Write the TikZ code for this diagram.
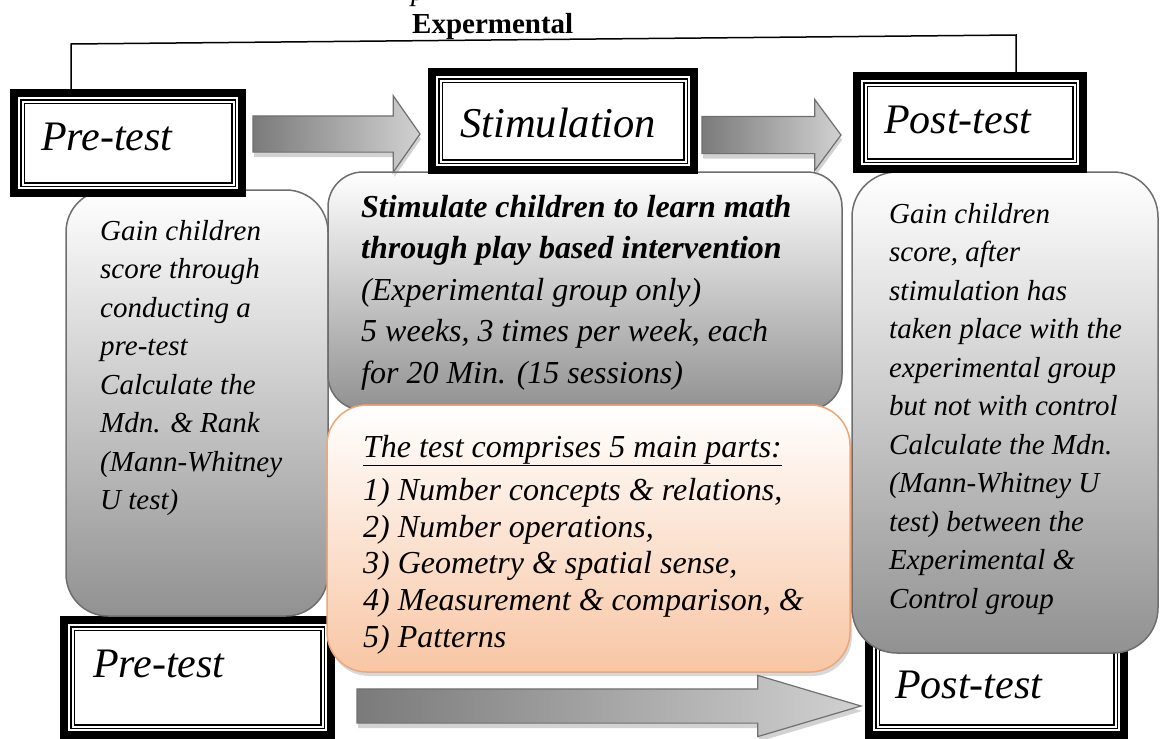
\documentclass[tikz,border=0pt]{standalone}
\usepackage{fontspec}
\setmainfont{Liberation Serif}
\usetikzlibrary{shapes.arrows,shadows}

\definecolor{boxedge}{HTML}{6E6E6E}
\definecolor{arrowedge}{HTML}{707070}
\definecolor{peach}{HTML}{F8C6A4}
\definecolor{peachedge}{HTML}{F0A677}

\newcommand\innerframe[1]{\draw[line width=1.1pt, double distance=2pt] ([shift={(8.5,8.5)}]#1.north west) rectangle ([shift={(-8.5,-8.5)}]#1.south east);}

\begin{document}
\begin{tikzpicture}[x=1pt,y=-1pt,
    dblbox/.style={draw, line width=8pt, fill=white, inner sep=0pt, outer sep=0pt},
    softbox/.style={draw=boxedge, line width=1.5pt, rounded corners=#1, inner sep=0pt, top color=white, bottom color=black!43},
    blockarrow/.style={single arrow, draw=arrowedge, line width=1.2pt, inner xsep=0pt, inner ysep=#1, outer sep=0pt, single arrow head indent=0pt, left color=black!52, right color=black!18, anchor=tail, drop shadow={opacity=0.35, shadow xshift=1pt, shadow yshift=-5pt}},
    boxtitle/.style={anchor=base west, inner sep=0pt, font=\fontsize{#1}{#1}\selectfont\itshape},
    bodytext/.style={anchor=north west, inner sep=0pt, align=left, font=\fontsize{29}{38.5}\selectfont\itshape}]

    \path[use as bounding box, fill=white] (0,0) rectangle (1160,739);

    \node [anchor=base west, inner sep=0pt, font=\fontsize{29}{29}\selectfont\itshape] (ptop) at (411,0) {p};
    \node [anchor=base west, inner sep=0pt, font=\fontsize{29}{29}\selectfont\bfseries] (grp) at (412,33) {Expermental};

    \node [dblbox, minimum width=267, minimum height=115] (preB) at (197.5,677.5) {};
    \innerframe{preB}
    \node [boxtitle=42] (preBtxt) at (93,677) {Pre-test};

    \node [dblbox, minimum width=255, minimum height=95] (postB) at (996.5,687.5) {};
    \innerframe{postB}
    \node [boxtitle=42] (postBtxt) at (895,698) {Post-test};

    \node [softbox=42pt, minimum width=262, minimum height=426] (gainpre) at (197,403) {};
    \node [softbox=35pt, minimum width=514, minimum height=238] (stimbox) at (585,291) {};
    \node [softbox=45pt, minimum width=306, minimum height=481] (gainpost) at (1005,412.5) {};
    \node [draw=peachedge, line width=1.5pt, rounded corners=40pt, inner sep=0pt, top color=white, bottom color=peach,
           drop shadow={opacity=0.3, shadow xshift=2pt, shadow yshift=-4pt},
           minimum width=523, minimum height=267] (parts) at (588.5,538.5) {};

    \node [dblbox, minimum width=228, minimum height=100] (preA) at (128,143) {};
    \innerframe{preA}
    \node [boxtitle=42] (preAtxt) at (41,150) {Pre-test};

    \node [dblbox, minimum width=262, minimum height=98] (stim) at (563,121) {};
    \innerframe{stim}
    \node [boxtitle=42.5] (stimtxt) at (460,137) {Stimulation};

    \node [dblbox, minimum width=226, minimum height=93] (postA) at (970,122.5) {};
    \innerframe{postA}
    \node [boxtitle=42] (postAtxt) at (884,133) {Post-test};

    \coordinate (brB) at (71,44);
    \coordinate (brC) at (1016,35);
    \draw [line width=1.5pt] (brB |- preA.north) -- (brB) -- (brC) -- (brC |- postA.north);

    \node [blockarrow=17.5pt, single arrow head extend=20pt, single arrow tip angle=110, minimum height=167] (arrA) at (253,134) {};
    \node [blockarrow=18pt, single arrow head extend=17pt, single arrow tip angle=107, minimum height=139] (arrB) at (702,135) {};
    \node [blockarrow=16.5pt, single arrow head extend=13.5pt, single arrow tip angle=33, minimum height=504] (arrC) at (357,706) {};

    \node [bodytext] (gainpretxt) at (100,220) {Gain children\\score through\\conducting a\\pre-test\\Calculate the\\Mdn. \& Rank\\(Mann-Whitney\\U test)};

    \node [bodytext, font=\fontsize{32}{41.5}\selectfont\itshape] (stimboxtxt) at (361,195) {\textbf{Stimulate children to learn math}\\\textbf{through play based intervention}\\(Experimental group only)\\5 weeks, 3 times per week, each\\for 20 Min. (15 sessions)};

    \node [bodytext, font=\fontsize{32}{36.8}\selectfont\itshape] (partstxt) at (363,435) {\underline{The test comprises 5 main parts:}\\[6pt]1) Number concepts \& relations,\\2) Number operations,\\3) Geometry \& spatial sense,\\4) Measurement \& comparison, \&\\5) Patterns};

    \node [bodytext] (gainposttxt) at (889,203) {Gain children\\score, after\\stimulation has\\taken place with the\\experimental group\\but not with control\\Calculate the Mdn.\\(Mann-Whitney U\\test) between the\\Experimental \&\\Control group};

\end{tikzpicture}
\end{document}
